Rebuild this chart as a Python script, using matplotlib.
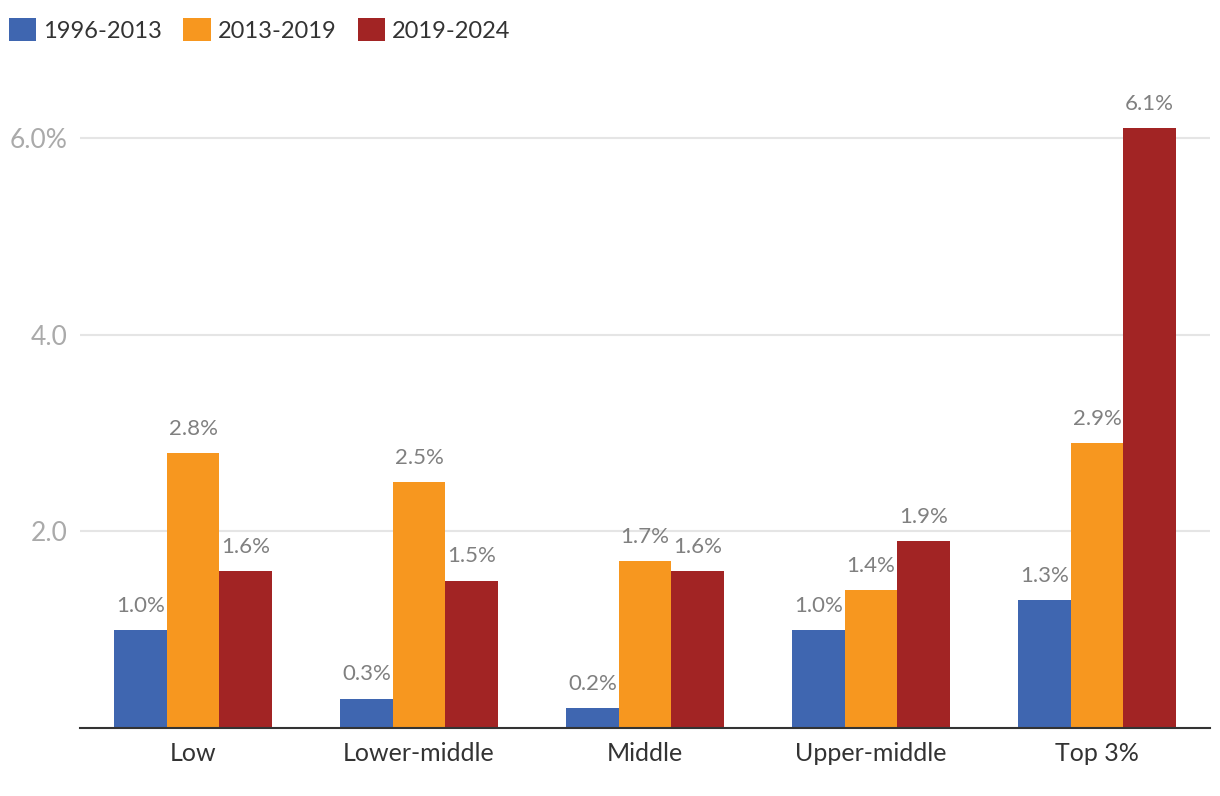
import matplotlib
matplotlib.use("Agg")
import matplotlib.pyplot as plt
import numpy as np
from matplotlib.patches import Patch

categories = ["Low", "Lower-middle", "Middle", "Upper-middle", "Top 3%"]
series_names = ["1996-2013", "2013-2019", "2019-2024"]
s1996_2013 = [1.0, 0.3, 0.2, 1.0, 1.3]
s2013_2019 = [2.8, 2.5, 1.7, 1.4, 2.9]
s2019_2024 = [1.6, 1.5, 1.6, 1.9, 6.1]
ytick_vals = [2.0, 4.0, 6.0]
ytick_labels = ["2.0", "4.0", "6.0%"]

colors = ["#3F66B0", "#F7971F", "#A22424"]
plt.rcParams['font.family'] = ['Lato', 'DejaVu Sans']

fig = plt.figure(figsize=(12.2, 7.96), dpi=100)
ax = fig.add_axes([80/1220, 68/796, 1130/1220, (728-89)/796])

x = np.arange(len(categories))
w = 0.232
series = [s1996_2013, s2013_2019, s2019_2024]
for i, (vals, name, c) in enumerate(zip(series, series_names, colors)):
    pos = x + (i - 1) * w
    ax.bar(pos, vals, width=w, color=c, label=name, zorder=2)
    for px, v in zip(pos, vals):
        ax.annotate(f"{v:.1f}%", (px, v), xytext=(0, 13), textcoords="offset points",
                    ha="center", va="baseline", fontsize=16, color="#808080")

ax.set_xlim(-0.5, len(categories) - 0.5)
ax.set_ylim(0, 6.5)
ax.set_yticks(ytick_vals)
ax.set_yticklabels(ytick_labels)
ax.set_xticks(x)
ax.set_xticklabels(categories)
ax.tick_params(axis="y", length=0, pad=9, labelsize=19, labelcolor="#AAAAAA")
ax.tick_params(axis="x", length=0, pad=10, labelsize=18, labelcolor="#333333")
ax.grid(axis="y", color="#E5E5E5", linewidth=1.5, zorder=0)
ax.set_axisbelow(True)
for s in ["top", "right", "left"]:
    ax.spines[s].set_visible(False)
ax.spines["bottom"].set_color("#333333")
ax.spines["bottom"].set_linewidth(1.5)
ax.spines["bottom"].set_zorder(3)

handles = [Patch(facecolor=c, edgecolor="none") for c in colors]
fig.legend(handles, series_names, loc="upper left", bbox_to_anchor=(9/1220, 1 - 18/796),
           ncol=3, frameon=False, fontsize=17, handlelength=1.15, handleheight=1.15,
           handletextpad=0.3, columnspacing=0.9, borderpad=0, borderaxespad=0,
           labelcolor="#333333")

fig.savefig("out.png", dpi=100)
